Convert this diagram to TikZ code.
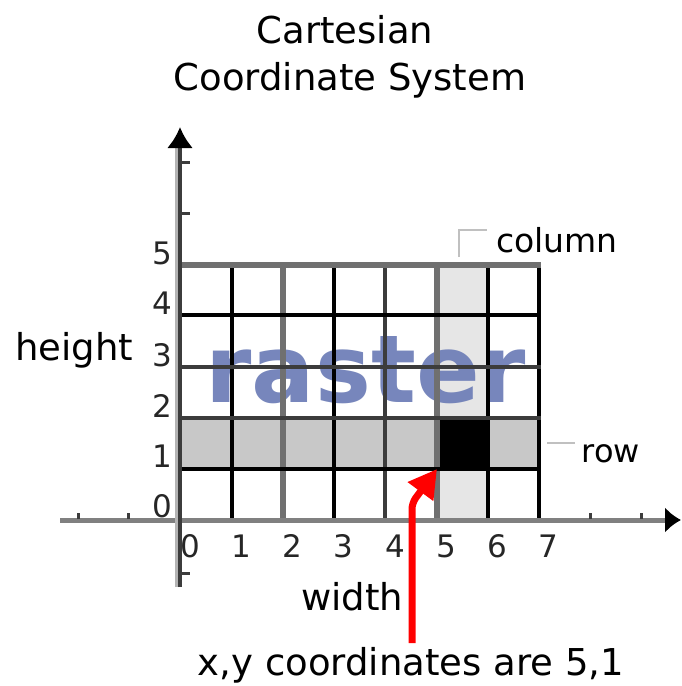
\documentclass[tikz,border=0pt]{standalone}
\usepackage{fontspec}
\setmainfont{DejaVu Sans}
\usetikzlibrary{arrows.meta}
\definecolor{colband}{RGB}{230,230,230}
\definecolor{rowband}{RGB}{200,200,200}
\definecolor{rastercol}{RGB}{112,128,184}
\definecolor{gridgray}{RGB}{112,112,112}
\definecolor{middark}{RGB}{60,60,60}
\definecolor{axisgray}{RGB}{128,128,128}
\definecolor{axislight}{RGB}{180,180,180}
\definecolor{markgray}{RGB}{192,192,192}
\begin{document}
\begin{tikzpicture}[x=1pt,y=-1pt,
  txt/.style={inner sep=0pt,anchor=base,text=black},
  numlab/.style={txt,font=\fontsize{31}{33}\selectfont,text=black!85},
  blackline/.style={black,line width=3.2},
  grayline/.style={gridgray,line width=5.5},
  darkline/.style={middark,line width=4},
  tickmark/.style={middark,line width=3},
  marker/.style={markgray,line width=2.2}]
\useasboundingbox (0,0) rectangle (682,686);
% bands
\fill[colband] (437,265) rectangle (488,520);
\fill[rowband] (180,418) rectangle (539,469);
\fill[black] (437,418) rectangle (488,469);
% raster text
\node[txt,font=\fontsize{94}{100}\selectfont\bfseries,text=rastercol,text opacity=0.95] (raster) at (366,402) {raster};
% grid vertical lines
\draw[blackline] (232,265) -- (232,520);
\draw[grayline] (283,265) -- (283,520);
\draw[blackline] (334,265) -- (334,520);
\draw[darkline] (385,265) -- (385,520);
\draw[grayline] (437,265) -- (437,520);
\draw[blackline] (488,265) -- (488,520);
\draw[blackline] (539,265) -- (539,520);
% grid horizontal lines
\draw[grayline] (180,265) -- (541,265);
\draw[blackline] (180,315) -- (541,315);
\draw[darkline] (180,367) -- (541,367);
\draw[darkline] (180,418) -- (541,418);
\draw[blackline] (180,469) -- (541,469);
% axes
\coordinate (xl) at (60,520);
\coordinate (xr) at (681,520);
\coordinate (yb) at (180,587);
\coordinate (yt) at (180,127);
\draw[axisgray,line width=5,-{Latex[length=16,width=26,black]}] (xl) -- (xr);
\draw[axislight,line width=3] (176.5,587) -- (176.5,146);
\draw[middark,line width=3.5,-{Latex[length=21,width=26,black]}] (yb) -- (yt);
% ticks
\draw[tickmark] (78,513) -- (78,519);
\draw[tickmark] (128,513) -- (128,519);
\draw[tickmark] (590,513) -- (590,519);
\draw[tickmark] (641,513) -- (641,519);
\draw[tickmark] (180,162) -- (190,162);
\draw[tickmark] (180,213) -- (190,213);
\draw[tickmark] (180,573) -- (190,573);
% y labels
\node[numlab] (y0) at (162,517) {0};
\node[numlab] (y1) at (162,467) {1};
\node[numlab] (y2) at (162,417) {2};
\node[numlab] (y3) at (162,366) {3};
\node[numlab] (y4) at (162,314) {4};
\node[numlab] (y5) at (162,264) {5};
% x labels
\node[numlab] (x0) at (190,557) {0};
\node[numlab] (x1) at (241,557) {1};
\node[numlab] (x2) at (292,557) {2};
\node[numlab] (x3) at (343,557) {3};
\node[numlab] (x4) at (395,557) {4};
\node[numlab] (x5) at (446,557) {5};
\node[numlab] (x6) at (497,557) {6};
\node[numlab] (x7) at (548,557) {7};
% titles and labels
\node[txt,font=\fontsize{37}{40}\selectfont] (t1) at (345,43) {Cartesian};
\node[txt,font=\fontsize{37}{40}\selectfont] (t2) at (350,90) {Coordinate System};
\node[txt,font=\fontsize{37}{40}\selectfont] (height) at (74,360) {height};
\node[txt,font=\fontsize{37}{40}\selectfont] (width) at (352,610) {width};
\node[txt,font=\fontsize{33}{36}\selectfont] (column) at (557,252) {column};
\node[txt,font=\fontsize{32}{35}\selectfont] (row) at (611,462) {row};
\node[txt,font=\fontsize{37}{40}\selectfont] (coords) at (411,675) {x,y coordinates are 5,1};
% markers
\draw[marker] (459,257) -- (459,230) -- (487,230);
\draw[marker] (547,443) -- (575,443);
% red arrow
\coordinate (ra) at (412,643);
\coordinate (rb) at (437,469);
\draw[red,line width=7,rounded corners=6,-{Triangle[length=28,width=30]}] (ra) -- (412,503) -- (rb);
\end{tikzpicture}
\end{document}
